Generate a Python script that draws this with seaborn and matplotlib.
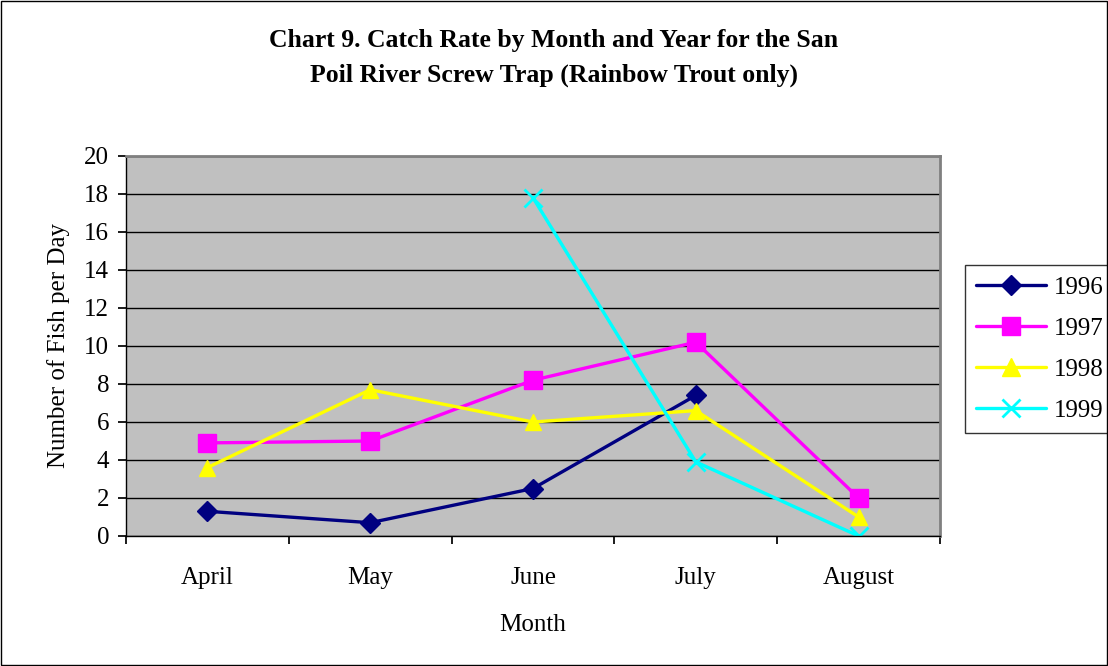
import numpy as np
import pandas as pd
import matplotlib
matplotlib.use('Agg')
import matplotlib.pyplot as plt
import seaborn as sns

months = ['April', 'May', 'June', 'July', 'August']
years = ['1996', '1997', '1998', '1999']
rate_1996 = [1.3, 0.7, 2.5, 7.4, np.nan]
rate_1997 = [4.9, 5.0, 8.2, 10.2, 2.0]
rate_1998 = [3.6, 7.7, 6.0, 6.6, 1.0]
rate_1999 = [np.nan, np.nan, 17.8, 3.9, 0.0]

colors = ['#000080', '#FF00FF', '#FFFF00', '#00FFFF']
markers = ['D', 's', '^', 'x']
msizes = [10, 13, 12, 13]

sns.set_theme(style='white')
plt.rcParams['font.family'] = ['Liberation Serif', 'DejaVu Serif']
plt.rcParams['text.color'] = 'black'
plt.rcParams['axes.labelcolor'] = 'black'
plt.rcParams['xtick.color'] = 'black'
plt.rcParams['ytick.color'] = 'black'

fig = plt.figure(figsize=(11.08, 6.66), dpi=100)
ax = fig.add_axes([126/1108, 1 - 536/666, (940-126)/1108, (536-156)/666])
ax.set_facecolor('#C0C0C0')

for yr, vals, c, m, ms in zip(years, [rate_1996, rate_1997, rate_1998, rate_1999], colors, markers, msizes):
    d = pd.DataFrame({'pos': np.arange(len(months)), 'rate': vals}).dropna()
    sns.lineplot(data=d, x='pos', y='rate', ax=ax, color=c, marker=m, markersize=ms,
                 markeredgecolor=c, markeredgewidth=2 if m == 'x' else 1, linewidth=2.4, label=yr)

ax.set_xlim(-0.5, 4.5)
ax.set_ylim(0, 20)
ax.set_yticks(range(0, 21, 2))
ax.yaxis.grid(True, color='black', linewidth=1)
ax.set_axisbelow(True)
ax.set_xticks(np.arange(-0.5, 5, 1))
ax.set_xticklabels([])
ax.set_xticks(np.arange(len(months)), minor=True)
ax.set_xticklabels(months, minor=True)
ax.tick_params(axis='x', which='major', length=6, direction='out', color='black', bottom=True)
ax.tick_params(axis='x', which='minor', length=0, pad=22, labelsize=18)
ax.tick_params(axis='y', length=6, direction='out', color='black', left=True, labelsize=18, pad=6)
for s in ['top', 'right']:
    ax.spines[s].set_color('#808080')
    ax.spines[s].set_linewidth(2)
ax.spines['left'].set_color('black')
ax.spines['bottom'].set_color('black')
ax.spines['left'].set_linewidth(1)
ax.spines['bottom'].set_linewidth(1)

ax.set_xlabel('Month', fontsize=18, labelpad=18)
ax.set_ylabel('Number of Fish per Day', fontsize=18, labelpad=10)

fig.text(0.5, 1 - 41/666, 'Chart 9. Catch Rate by Month and Year for the San', ha='center', va='center',
         fontsize=18.5, fontweight='bold')
fig.text(0.5, 1 - 75/666, 'Poil River Screw Trap (Rainbow Trout only)', ha='center', va='center',
         fontsize=18.5, fontweight='bold')

leg = ax.legend(loc='upper left', bbox_to_anchor=(965/1108, 1 - 265/666), bbox_transform=fig.transFigure,
                frameon=True, fancybox=False, edgecolor='black', fontsize=18, handlelength=2.8,
                handletextpad=0.3, labelspacing=0.74, borderpad=0.45, borderaxespad=0, markerscale=1.05)
leg.get_frame().set_linewidth(1)

fig.patches.append(plt.Rectangle((0.001, 0.001), 0.998, 0.998, transform=fig.transFigure,
                                 fill=False, edgecolor='black', linewidth=1))

fig.savefig('out.png', dpi=100)
